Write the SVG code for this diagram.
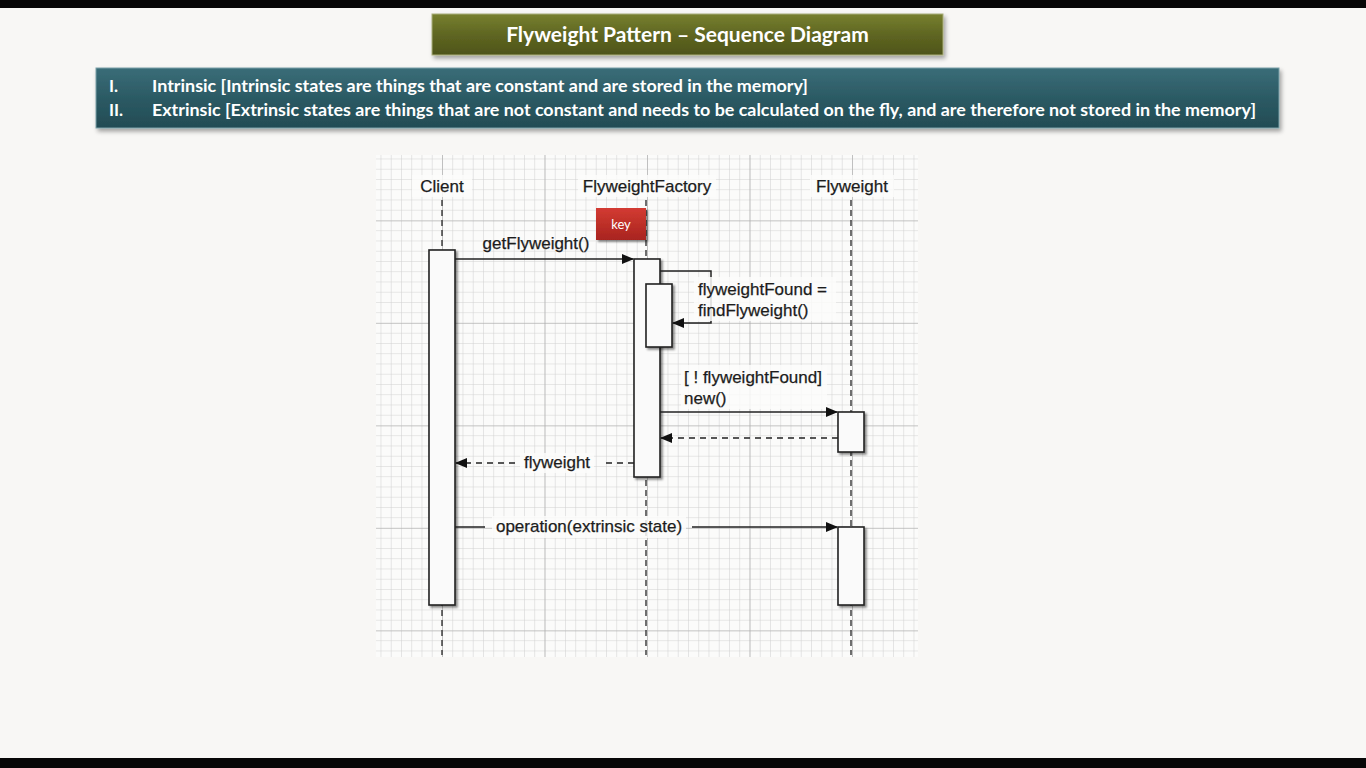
<svg xmlns="http://www.w3.org/2000/svg" width="1366" height="768" viewBox="0 0 1366 768">
<defs>
<style>
.seq{font-family:"Liberation Sans",Arial,sans-serif;font-size:17px;fill:#1c1c1c;stroke:#1c1c1c;stroke-width:0.25;}
.hdr{font-family:Lato,"Open Sans",sans-serif;font-weight:bold;fill:#fff;}
.act{fill:#fafafa;stroke:#222;stroke-width:1.6;filter:url(#sh);}
.life{stroke:#333;stroke-width:1.4;stroke-dasharray:6,4;fill:none;}
.msg{stroke:#222;stroke-width:1.5;fill:none;}
.ret{stroke:#222;stroke-width:1.5;fill:none;stroke-dasharray:6,5;}
.lbg{fill:#fbfbfa;opacity:0.85;}
</style>
<pattern id="minor" patternUnits="userSpaceOnUse" x="442" y="220" width="10.25" height="10.25">
<path d="M0 0V10.25M0 0H10.25" stroke="#cfcfcf" stroke-width="1" fill="none"/>
</pattern>
<pattern id="major" patternUnits="userSpaceOnUse" x="442" y="220.5" width="102.5" height="102.5">
<path d="M0 0V102.5M0 0H102.5" stroke="#a9a9a9" stroke-width="1.2" fill="none"/>
</pattern>
<linearGradient id="olive" x1="0" y1="0" x2="0" y2="1">
<stop offset="0" stop-color="#77802f"/>
<stop offset="0.5" stop-color="#5f6622"/>
<stop offset="1" stop-color="#4e5419"/>
</linearGradient>
<linearGradient id="teal" x1="0" y1="0" x2="0" y2="1">
<stop offset="0" stop-color="#3a6d78"/>
<stop offset="0.5" stop-color="#2b5a64"/>
<stop offset="1" stop-color="#234b54"/>
</linearGradient>
<linearGradient id="red" x1="0" y1="0" x2="0" y2="1">
<stop offset="0" stop-color="#d33b32"/>
<stop offset="1" stop-color="#a8241f"/>
</linearGradient>
<filter id="sh" x="-20%" y="-20%" width="150%" height="150%">
<feDropShadow dx="2" dy="2" stdDeviation="1.2" flood-color="#000" flood-opacity="0.45"/>
</filter>
<filter id="sh2" x="-5%" y="-20%" width="110%" height="150%">
<feDropShadow dx="2" dy="3" stdDeviation="2" flood-color="#000" flood-opacity="0.35"/>
</filter>
<marker id="arr" markerWidth="12" markerHeight="10" refX="11" refY="5" orient="auto" markerUnits="userSpaceOnUse">
<path d="M0 0L12 5L0 10Z" fill="#111"/>
</marker>
</defs>
<rect x="0" y="0" width="1366" height="768" fill="#f8f7f5"/>
<rect x="0" y="0" width="1366" height="8" fill="#070707"/>
<rect x="0" y="758" width="1366" height="10" fill="#070707"/>

<g id="title">
<rect x="432" y="14" width="511" height="41" fill="url(#olive)" stroke="#a8ad7a" stroke-width="1" filter="url(#sh2)"/>
<text class="hdr" x="687.5" y="42" font-size="21" text-anchor="middle" fill="#f4f2dc">Flyweight Pattern – Sequence Diagram</text>
</g>

<g id="notes">
<rect x="96" y="68" width="1183" height="60" fill="url(#teal)" stroke="#7aa0a8" stroke-width="1" filter="url(#sh2)"/>
<text class="hdr" x="109" y="92" font-size="17">I.</text>
<text class="hdr" x="152" y="92" font-size="17" textLength="656" lengthAdjust="spacingAndGlyphs">Intrinsic [Intrinsic states are things that are constant and are stored in the memory]</text>
<text class="hdr" x="109" y="116" font-size="17">II.</text>
<text class="hdr" x="152" y="116" font-size="17" textLength="1104" lengthAdjust="spacingAndGlyphs">Extrinsic [Extrinsic states are things that are not constant and needs to be calculated on the fly, and are therefore not stored in the memory]</text>
</g>

<g id="grid">
<rect x="376" y="155" width="542" height="502" fill="#fbfbfa"/>
<rect x="376" y="155" width="542" height="502" fill="url(#minor)"/>
<rect x="376" y="155" width="542" height="502" fill="url(#major)"/>
</g>

<g id="lifelines">
<line class="life" x1="442" y1="200" x2="442" y2="655"/>
<line class="life" x1="646" y1="200" x2="646" y2="655"/>
<line class="life" x1="851" y1="200" x2="851" y2="655"/>
</g>

<g id="client">
<rect class="lbg" x="412" y="175" width="60" height="22"/>
<text class="seq" x="442" y="192" text-anchor="middle">Client</text>
<rect class="act" x="429" y="250" width="26" height="355"/>
</g>

<g id="factory">
<rect class="lbg" x="578" y="175" width="138" height="22"/>
<text class="seq" x="647" y="192" text-anchor="middle">FlyweightFactory</text>
<rect class="act" x="634" y="259" width="26" height="218"/>
<rect class="act" x="646" y="284" width="26" height="63"/>
</g>

<g id="flyweight">
<rect class="lbg" x="810" y="175" width="84" height="22"/>
<text class="seq" x="852" y="192" text-anchor="middle">Flyweight</text>
<rect class="act" x="838" y="412" width="26" height="40"/>
<rect class="act" x="838" y="527" width="26" height="78"/>
</g>

<g id="key">
<rect x="596" y="208" width="50" height="32" fill="url(#red)" filter="url(#sh)"/>
<text x="621" y="229" text-anchor="middle" font-family="Lato,'Open Sans',sans-serif" font-size="13" fill="#fff">key</text>
</g>

<g id="connectors">
<line class="msg" x1="455" y1="259" x2="633" y2="259" marker-end="url(#arr)"/>
<text class="seq" x="536" y="249" text-anchor="middle">getFlyweight()</text>

<path class="msg" d="M660 271H711V323H673" marker-end="url(#arr)"/>
<rect class="lbg" x="694" y="277" width="142" height="44"/>
<text class="seq" x="698" y="295">flyweightFound =</text>
<text class="seq" x="698" y="316">findFlyweight()</text>

<rect class="lbg" x="681" y="365" width="146" height="44"/>
<text class="seq" x="684" y="383">[ ! flyweightFound]</text>
<text class="seq" x="684" y="404">new()</text>
<line class="msg" x1="660" y1="412" x2="837" y2="412" marker-end="url(#arr)"/>

<line class="ret" x1="838" y1="438" x2="661" y2="438" marker-end="url(#arr)"/>

<line class="ret" x1="634" y1="463" x2="603" y2="463"/>
<line class="ret" x1="515" y1="463" x2="456" y2="463" marker-end="url(#arr)"/>
<rect class="lbg" x="520" y="453" width="74" height="20"/>
<text class="seq" x="557" y="468" text-anchor="middle">flyweight</text>

<line class="msg" x1="455" y1="527" x2="485" y2="527"/>
<line class="msg" x1="692" y1="527" x2="837" y2="527" marker-end="url(#arr)"/>
<rect class="lbg" x="492" y="516" width="194" height="22"/>
<text class="seq" x="589" y="532" text-anchor="middle">operation(extrinsic state)</text>
</g>
</svg>
